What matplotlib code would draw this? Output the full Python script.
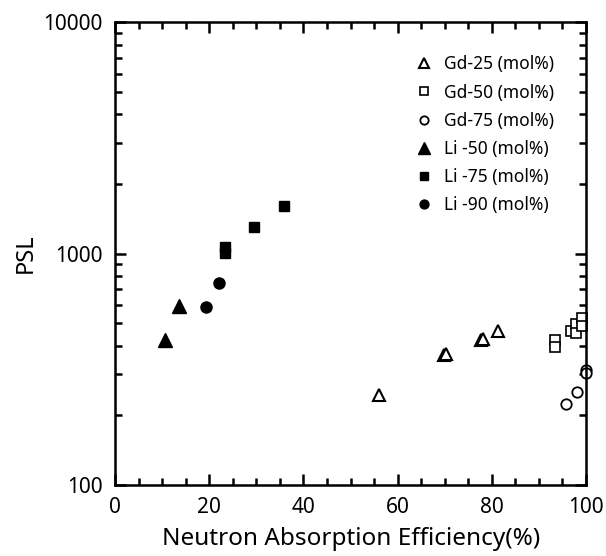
import matplotlib.pyplot as plt
from matplotlib.ticker import MultipleLocator, LogLocator, NullFormatter

# Gd series (open markers)
gd25_x = [56, 69.8, 70.2, 77.8, 78.2, 81.3]
gd25_y = [245, 363, 367, 421, 426, 463]
gd50_x = [93.4, 93.4, 96.8, 97.9, 97.9, 99.1, 99.1]
gd50_y = [423, 395, 463, 495, 455, 526, 488]
gd75_x = [95.8, 98.1, 100, 100]
gd75_y = [224, 252, 314, 305]

# Li series (filled markers)
li50_x = [10.5, 13.5]
li50_y = [423, 593]
li75_x = [23.4, 23.4, 29.5, 35.9]
li75_y = [1067, 1005, 1302, 1604]
li90_x = [19.3, 22.1]
li90_y = [587, 746]

plt.rcParams['font.family'] = ['Noto Sans', 'DejaVu Sans']

fig = plt.figure(figsize=(6.06, 5.56), dpi=100)
ax = fig.add_axes([0.190, 0.128, 0.777, 0.832])

ax.plot(gd25_x, gd25_y, '^', ls='none', mfc='white', mec='black', mew=1.5, ms=9, label='Gd-25 (mol%)', clip_on=False)
ax.plot(gd50_x, gd50_y, 's', ls='none', mfc='white', mec='black', mew=1.2, ms=7, label='Gd-50 (mol%)', clip_on=False)
ax.plot(gd75_x, gd75_y, 'o', ls='none', mfc='white', mec='black', mew=1.3, ms=7.5, label='Gd-75 (mol%)', clip_on=False)
ax.plot(li50_x, li50_y, '^', ls='none', color='black', ms=10, label='Li -50 (mol%)')
ax.plot(li75_x, li75_y, 's', ls='none', color='black', ms=7.5, label='Li -75 (mol%)')
ax.plot(li90_x, li90_y, 'o', ls='none', color='black', ms=8, label='Li -90 (mol%)')

ax.set_yscale('log')
ax.set_xlim(0, 100)
ax.set_ylim(100, 10000)
ax.xaxis.set_major_locator(MultipleLocator(20))
ax.xaxis.set_minor_locator(MultipleLocator(5))
ax.yaxis.set_minor_locator(LogLocator(base=10, subs=range(2, 10)))
ax.yaxis.set_minor_formatter(NullFormatter())
ax.set_yticks([100, 1000, 10000])
ax.set_yticklabels(['100', '1000', '10000'])

ax.tick_params(which='both', direction='in', top=True, right=True, width=1.8)
ax.tick_params(which='major', length=8, labelsize=15)
ax.tick_params(axis='x', which='major', pad=9)
ax.tick_params(axis='y', which='major', pad=9)
ax.tick_params(which='minor', length=5)
for s in ax.spines.values():
    s.set_linewidth(1.8)

ax.set_xlabel('Neutron Absorption Efficiency(%)', fontsize=17.5, labelpad=6)
ax.set_ylabel('PSL', fontsize=17)

ax.legend(loc='upper right', bbox_to_anchor=(0.965, 0.962), frameon=False, fontsize=12.5,
          handlelength=1.0, handletextpad=0.65, labelspacing=0.58, numpoints=1, markerscale=0.8)

fig.savefig('out.png', dpi=100)
